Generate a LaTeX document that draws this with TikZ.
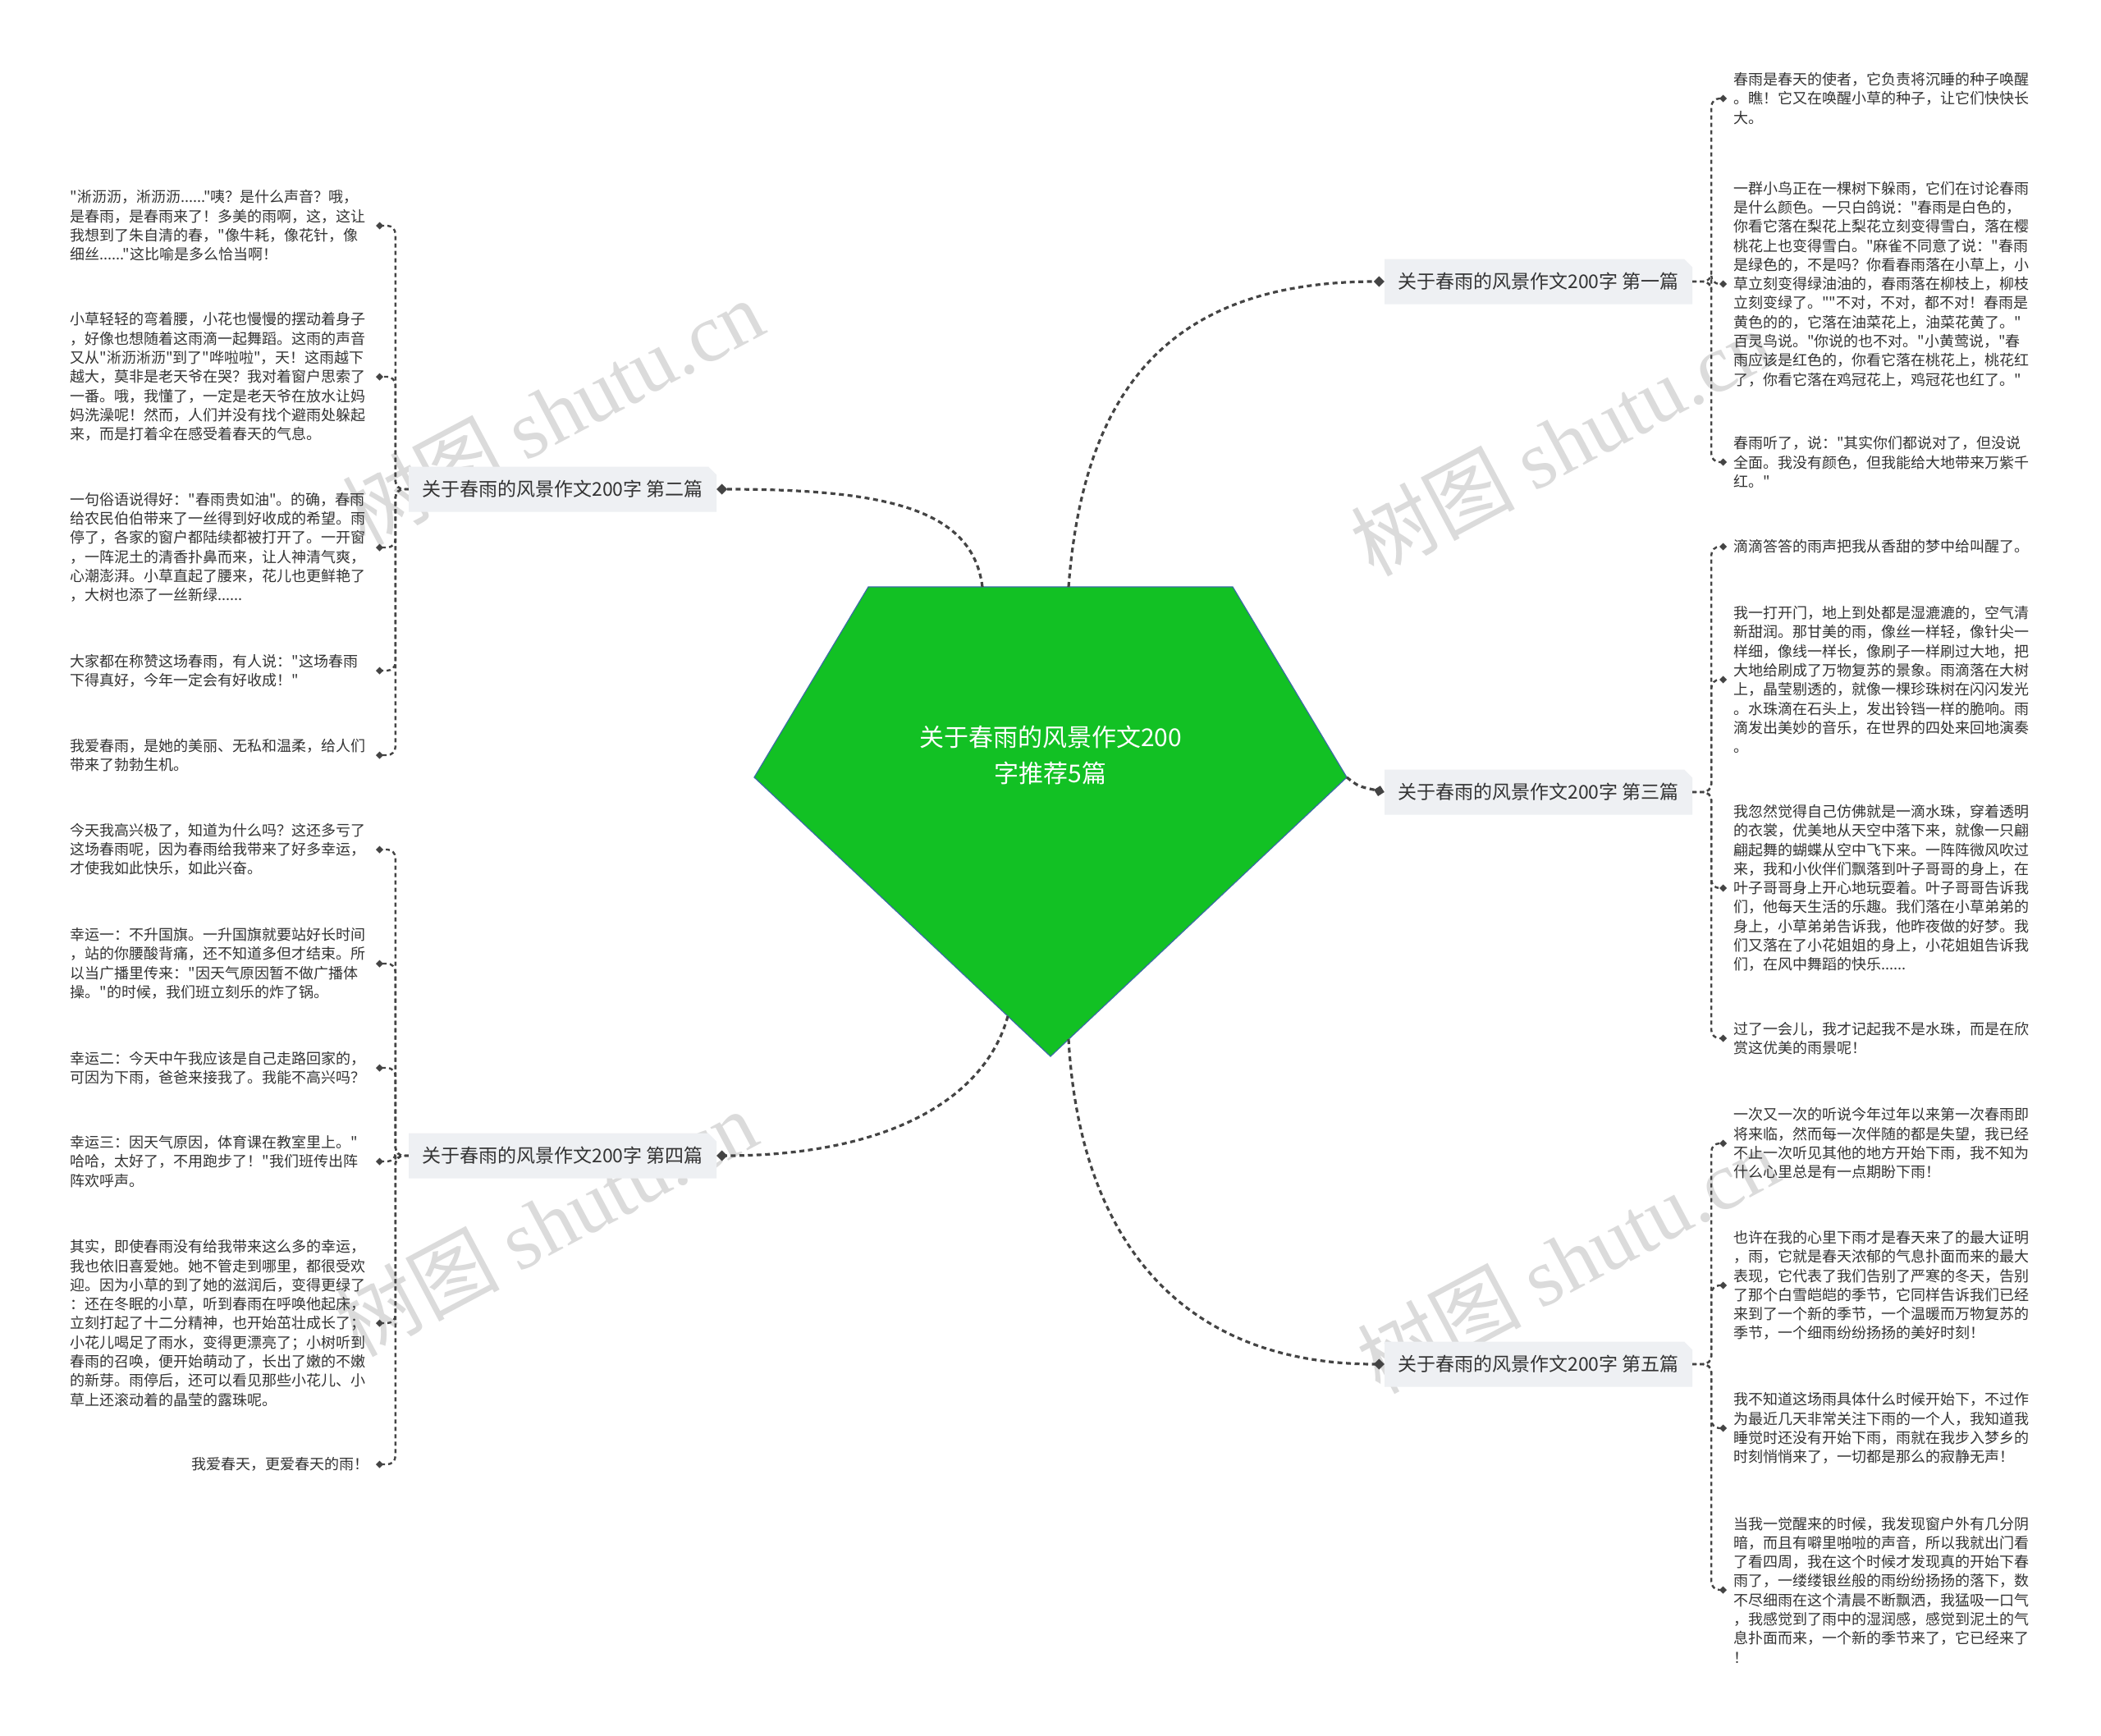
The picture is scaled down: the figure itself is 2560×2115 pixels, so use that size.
\documentclass[tikz,border=0pt]{standalone}
\usepackage{fontspec}
\setmainfont{Noto Sans CJK SC}[Ligatures=TeXOff]
\newfontfamily\markfont{Liberation Serif}
\usetikzlibrary{arrows.meta,shapes.misc}

\definecolor{rootgreen}{RGB}{18,193,36}
\definecolor{rootedge}{RGB}{58,108,165}
\definecolor{labelbg}{RGB}{238,240,243}
\definecolor{inkgray}{RGB}{51,51,51}
\definecolor{linegray}{RGB}{68,68,68}

\begin{document}
\begin{tikzpicture}[x=1pt, y=-1pt,
    watermark/.style={rotate=28, text=gray!28, font=\fontsize{100}{100}\selectfont, inner sep=0pt},
    rootlabel/.style={text=white, align=center, font=\fontsize{30}{44}\selectfont},
    article/.style={chamfered rectangle, chamfered rectangle corners=north east,
        chamfered rectangle xsep=5pt, chamfered rectangle ysep=5pt,
        fill=labelbg, minimum width=375pt, minimum height=55pt, inner sep=0pt,
        text=inkgray, font=\fontsize{23}{28}\selectfont},
    leaf/.style={text=inkgray, align=left, inner xsep=8pt, inner ysep=0pt,
        font=\fontsize{18}{23.3}\selectfont},
    leftleaf/.style={leaf, anchor=east, text width=364pt},
    mainline/.style={draw=linegray, line width=3.2pt, dash pattern=on 6pt off 4.5pt,
        -{Turned Square[length=13pt,width=13pt]}},
    leafline/.style={draw=linegray, line width=2.4pt, dash pattern=on 5pt off 4pt,
        rounded corners=10pt, -{Turned Square[length=9pt,width=9pt]}}]
    \def\rightx{2104}
    \def\leftx{458}

    \useasboundingbox (0,0) rectangle (2560,2115);
    \fill[white] (0,0) rectangle (2560,2115);

    % WATERMARKS
    \foreach \wx/\wy [count=\i] in {673/502, 665/1490, 1902/539, 1910/1535} {
        \node[watermark] (mark\i) at (\wx,\wy) {树图 {\markfont shutu.cn}};
    }

    % ROOT
    \draw[rootedge, fill=rootgreen, line width=1.2pt]
        (1058,715) -- (1502,715) -- (1641,947) -- (1280,1287) -- (919,947) -- cycle;
    \node[rootlabel] (root) at (1280,920) {关于春雨的风景作文200\\字推荐5篇};
    \coordinate (c1) at (1302,715);
    \coordinate (c2) at (1197,715);
    \coordinate (c3) at (1641,947);
    \coordinate (c4) at (1228,1238);
    \coordinate (c5) at (1302,1266);

    % ARTICLES
    \node[article] (art1) at (1874.5,343)  {关于春雨的风景作文200字 第一篇};
    \node[article] (art2) at (685.5,596)   {关于春雨的风景作文200字 第二篇};
    \node[article] (art3) at (1874.5,965)  {关于春雨的风景作文200字 第三篇};
    \node[article] (art4) at (685.5,1408)  {关于春雨的风景作文200字 第四篇};
    \node[article] (art5) at (1874.5,1662) {关于春雨的风景作文200字 第五篇};

    \draw[mainline] (c1) .. controls (1320,480) and (1420,343) .. (art1.west);
    \draw[mainline] (c2) .. controls (1185,620) and (1080,596) .. (art2.east);
    \draw[mainline] (c3) .. controls (1655,958) .. (art3.west);
    \draw[mainline] (c4) .. controls (1200,1340) and (1080,1408) .. (art4.east);
    \draw[mainline] (c5) .. controls (1315,1500) and (1430,1662) .. (art5.west);

    % FIRST
    \node[leaf, anchor=west] (r1a) at (\rightx,120) {春雨是春天的使者，它负责将沉睡的种子唤醒\\。瞧！它又在唤醒小草的种子，让它们快快长\\大。};
    \node[leaf, anchor=west] (r1b) at (\rightx,346) {一群小鸟正在一棵树下躲雨，它们在讨论春雨\\是什么颜色。一只白鸽说："春雨是白色的，\\你看它落在梨花上梨花立刻变得雪白，落在樱\\桃花上也变得雪白。"麻雀不同意了说："春雨\\是绿色的，不是吗？你看春雨落在小草上，小\\草立刻变得绿油油的，春雨落在柳枝上，柳枝\\立刻变绿了。""不对，不对，都不对！春雨是\\黄色的的，它落在油菜花上，油菜花黄了。"\\百灵鸟说。"你说的也不对。"小黄莺说，"春\\雨应该是红色的，你看它落在桃花上，桃花红\\了，你看它落在鸡冠花上，鸡冠花也红了。"};
    \node[leaf, anchor=west] (r1c) at (\rightx,563) {春雨听了，说："其实你们都说对了，但没说\\全面。我没有颜色，但我能给大地带来万紫千\\红。"};

    % THIRD
    \node[leaf, anchor=west] (r2a) at (\rightx,666) {滴滴答答的雨声把我从香甜的梦中给叫醒了。};
    \node[leaf, anchor=west] (r2b) at (\rightx,828) {我一打开门，地上到处都是湿漉漉的，空气清\\新甜润。那甘美的雨，像丝一样轻，像针尖一\\样细，像线一样长，像刷子一样刷过大地，把\\大地给刷成了万物复苏的景象。雨滴落在大树\\上，晶莹剔透的，就像一棵珍珠树在闪闪发光\\。水珠滴在石头上，发出铃铛一样的脆响。雨\\滴发出美妙的音乐，在世界的四处来回地演奏\\。};
    \node[leaf, anchor=west] (r2c) at (\rightx,1082) {我忽然觉得自己仿佛就是一滴水珠，穿着透明\\的衣裳，优美地从天空中落下来，就像一只翩\\翩起舞的蝴蝶从空中飞下来。一阵阵微风吹过\\来，我和小伙伴们飘落到叶子哥哥的身上，在\\叶子哥哥身上开心地玩耍着。叶子哥哥告诉我\\们，他每天生活的乐趣。我们落在小草弟弟的\\身上，小草弟弟告诉我，他昨夜做的好梦。我\\们又落在了小花姐姐的身上，小花姐姐告诉我\\们，在风中舞蹈的快乐......};
    \node[leaf, anchor=west] (r2d) at (\rightx,1265) {过了一会儿，我才记起我不是水珠，而是在欣\\赏这优美的雨景呢！};

    % FIFTH
    \node[leaf, anchor=west] (r3a) at (\rightx,1393) {一次又一次的听说今年过年以来第一次春雨即\\将来临，然而每一次伴随的都是失望，我已经\\不止一次听见其他的地方开始下雨，我不知为\\什么心里总是有一点期盼下雨！};
    \node[leaf, anchor=west] (r3b) at (\rightx,1566) {也许在我的心里下雨才是春天来了的最大证明\\，雨，它就是春天浓郁的气息扑面而来的最大\\表现，它代表了我们告别了严寒的冬天，告别\\了那个白雪皑皑的季节，它同样告诉我们已经\\来到了一个新的季节，一个温暖而万物复苏的\\季节，一个细雨纷纷扬扬的美好时刻！};
    \node[leaf, anchor=west] (r3c) at (\rightx,1740) {我不知道这场雨具体什么时候开始下，不过作\\为最近几天非常关注下雨的一个人，我知道我\\睡觉时还没有开始下雨，雨就在我步入梦乡的\\时刻悄悄来了，一切都是那么的寂静无声！};
    \node[leaf, anchor=west] (r3d) at (\rightx,1937) {当我一觉醒来的时候，我发现窗户外有几分阴\\暗，而且有噼里啪啦的声音，所以我就出门看\\了看四周，我在这个时候才发现真的开始下春\\雨了，一缕缕银丝般的雨纷纷扬扬的落下，数\\不尽细雨在这个清晨不断飘洒，我猛吸一口气\\，我感觉到了雨中的湿润感，感觉到泥土的气\\息扑面而来，一个新的季节来了，它已经来了\\！};

    % SECOND
    \node[leftleaf] (l1a) at (\leftx,275) {"淅沥沥，淅沥沥......"咦？是什么声音？哦，\\是春雨，是春雨来了！多美的雨啊，这，这让\\我想到了朱自清的春，"像牛耗，像花针，像\\细丝......"这比喻是多么恰当啊！};
    \node[leftleaf] (l1b) at (\leftx,459) {小草轻轻的弯着腰，小花也慢慢的摆动着身子\\，好像也想随着这雨滴一起舞蹈。这雨的声音\\又从"淅沥淅沥"到了"哗啦啦"，天！这雨越下\\越大，莫非是老天爷在哭？我对着窗户思索了\\一番。哦，我懂了，一定是老天爷在放水让妈\\妈洗澡呢！然而，人们并没有找个避雨处躲起\\来，而是打着伞在感受着春天的气息。};
    \node[leftleaf] (l1c) at (\leftx,667) {一句俗语说得好："春雨贵如油"。的确，春雨\\给农民伯伯带来了一丝得到好收成的希望。雨\\停了，各家的窗户都陆续都被打开了。一开窗\\，一阵泥土的清香扑鼻而来，让人神清气爽，\\心潮澎湃。小草直起了腰来，花儿也更鲜艳了\\，大树也添了一丝新绿......};
    \node[leftleaf] (l1d) at (\leftx,817) {大家都在称赞这场春雨，有人说："这场春雨\\下得真好，今年一定会有好收成！"};
    \node[leftleaf] (l1e) at (\leftx,920) {我爱春雨，是她的美丽、无私和温柔，给人们\\带来了勃勃生机。};

    % FOURTH
    \node[leftleaf] (l2a) at (\leftx,1035) {今天我高兴极了，知道为什么吗？这还多亏了\\这场春雨呢，因为春雨给我带来了好多幸运，\\才使我如此快乐，如此兴奋。};
    \node[leftleaf] (l2b) at (\leftx,1174) {幸运一：不升国旗。一升国旗就要站好长时间\\，站的你腰酸背痛，还不知道多但才结束。所\\以当广播里传来："因天气原因暂不做广播体\\操。"的时候，我们班立刻乐的炸了锅。};
    \node[leftleaf] (l2c) at (\leftx,1301) {幸运二：今天中午我应该是自己走路回家的，\\可因为下雨，爸爸来接我了。我能不高兴吗？};
    \node[leftleaf] (l2d) at (\leftx,1415) {幸运三：因天气原因，体育课在教室里上。"\\哈哈，太好了，不用跑步了！"我们班传出阵\\阵欢呼声。};
    \node[leftleaf] (l2e) at (\leftx,1612) {其实，即使春雨没有给我带来这么多的幸运，\\我也依旧喜爱她。她不管走到哪里，都很受欢\\迎。因为小草的到了她的滋润后，变得更绿了\\：还在冬眠的小草，听到春雨在呼唤他起床，\\立刻打起了十二分精神，也开始茁壮成长了；\\小花儿喝足了雨水，变得更漂亮了；小树听到\\春雨的召唤，便开始萌动了，长出了嫩的不嫩\\的新芽。雨停后，还可以看见那些小花儿、小\\草上还滚动着的晶莹的露珠呢。};
    \node[leaf, anchor=east] (l2f) at (\leftx,1784) {我爱春天，更爱春天的雨！};

    % BRACKETS
    \foreach \leaf in {r1a,r1b,r1c} {\draw[leafline] (art1.east) -- ++(23,0) |- (\leaf.west);}
    \foreach \leaf in {r2a,r2b,r2c,r2d} {\draw[leafline] (art3.east) -- ++(23,0) |- (\leaf.west);}
    \foreach \leaf in {r3a,r3b,r3c,r3d} {\draw[leafline] (art5.east) -- ++(23,0) |- (\leaf.west);}
    \foreach \leaf in {l1a,l1b,l1c,l1d,l1e} {\draw[leafline] (art2.west) -- ++(-16,0) |- (\leaf.east);}
    \foreach \leaf in {l2a,l2b,l2c,l2d,l2e,l2f} {\draw[leafline] (art4.west) -- ++(-16,0) |- (\leaf.east);}
\end{tikzpicture}
\end{document}
